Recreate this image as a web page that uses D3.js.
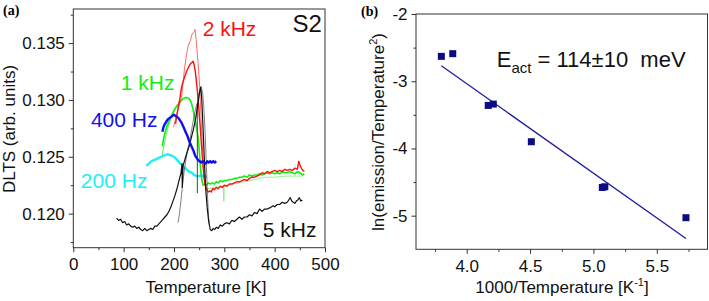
<!DOCTYPE html>
<html lang="en">
<head>
<meta charset="UTF-8">
<title>DLTS S2</title>
<script src="https://d3js.org/d3.v7.min.js"></script>
<style>
  body { margin: 0; background: #fff; }
  svg { display: block; font-family: "Liberation Sans", Arial, sans-serif; }
  .tick text { font-size: 17px; fill: #111; }
  .tick line { stroke: #333; }
  .frame { fill: none; stroke: #333; stroke-width: 1; }
  .trace { fill: none; stroke-linejoin: round; }
  .axis-title { font-size: 17px; fill: #111; }
  .panel-tag { font-family: "Liberation Serif", "DejaVu Serif", serif; font-weight: bold; font-size: 14px; }
</style>
</head>
<body>
<svg id="chart" width="709" height="301"></svg>
<script>
// ---- panel (a): DLTS spectra, [temperature K, signal] ----
const tempTicks = [0, 100, 200, 300, 400, 500];
const tempMinor = [50, 150, 250, 350, 450];
const dltsTicks = [0.120, 0.125, 0.130, 0.135];
const dltsMinor = [0.1175, 0.1225, 0.1275, 0.1325, 0.1375];

const trace5kHz = [[86,0.1196],[90,0.1194],[94,0.1195],[98,0.1192],[102,0.1193],[106,0.1190],[110,0.1191],[114,0.1189],[118,0.1188],[122,0.1189],[126,0.1187],[130,0.1188],[134,0.1186],[138,0.1185],[142,0.1187],[146,0.1185],[150,0.1186],[154,0.1187],[158,0.1186],[162,0.1189],[166,0.1189],[170,0.1191],[174,0.1193],[178,0.1195],[182,0.1197],[186,0.1199],[190,0.1202],[194,0.1206],[198,0.1211],[202,0.1216],[206,0.1222],[210,0.1229],[214,0.1236],[216,0.1244],[216.5,0.1223],[218,0.1242],[222,0.1248],[226,0.1254],[230,0.1259],[234,0.1266],[238,0.1273],[242,0.1281],[245,0.1289],[248,0.1298],[251,0.1307],[253,0.1311],[255,0.1302],[257,0.1283],[259,0.1262],[261,0.1240],[263,0.1222],[266,0.1205],[269,0.1193],[272,0.1186],[275,0.1185],[278,0.1187],[281,0.1186],[284,0.1188],[288,0.1187],[292,0.1190],[296,0.1189],[300,0.1191],[305,0.1192],[310,0.1191],[315,0.1194],[320,0.1193],[325,0.1195],[330,0.1197],[335,0.1195],[340,0.1197],[345,0.1197],[350,0.1199],[355,0.1198],[360,0.1201],[365,0.1200],[370,0.1204],[375,0.1202],[380,0.1204],[385,0.1204],[390,0.1205],[397,0.1207],[400,0.1206],[405,0.1208],[410,0.1208],[415,0.1210],[420,0.1209],[425,0.1210],[428,0.1212],[431,0.1214],[434,0.1211],[437,0.1210],[440,0.1209],[443,0.1211],[446,0.1212],[449,0.1214],[452,0.1211],[455,0.1212]];
const trace5kHzB = [[208,0.1192],[211,0.1200],[214,0.1212],[217,0.1225],[220,0.1236],[224,0.1248],[228,0.1258],[232,0.1266],[236,0.1276],[240,0.1286],[244,0.1294],[246,0.1297],[246.5,0.1218],[247,0.1299],[248,0.1302],[251,0.1308],[254,0.1312],[257,0.1306],[259,0.1295],[261,0.1280],[263,0.1258],[265,0.1235],[267,0.1212],[269,0.1196],[271,0.1189]];

const trace2kHz = [[203,0.1279],[206,0.1287],[209,0.1295],[212,0.1302],[215,0.1311],[218,0.1316],[221,0.1320],[224,0.1324],[227,0.1327],[230,0.1330],[233,0.1332],[236,0.1333],[238,0.1334],[240,0.1331],[242,0.1326],[244,0.1319],[246,0.1310],[248,0.1300],[250,0.1289],[252,0.1277],[254,0.1264],[256,0.1252],[258,0.1240],[260,0.1231],[262,0.1225],[265,0.1221],[268,0.1219],[271,0.1220],[274,0.1219],[277,0.1222],[280,0.1221],[284,0.1223],[288,0.1222],[292,0.1224],[296,0.1223],[300,0.1225],[305,0.1224],[310,0.1226],[315,0.1226],[320,0.1227],[325,0.1228],[330,0.1228],[335,0.1229],[340,0.1230],[345,0.1229],[350,0.1231],[355,0.1232],[360,0.1232],[365,0.1233],[370,0.1234],[375,0.1236],[380,0.1235],[385,0.1237],[390,0.1236],[395,0.1237],[400,0.1238],[405,0.1237],[410,0.1238],[415,0.1237],[420,0.1239],[425,0.1238],[430,0.1239],[435,0.1238],[440,0.1240],[445,0.1239],[448,0.1246],[450,0.1243],[453,0.1240],[456,0.1238],[459,0.1237]];
const trace2kHzB = [[199,0.1276],[203,0.1283],[207,0.1290],[211,0.1296],[215,0.1302],[218,0.1315],[221,0.1328],[225,0.1340],[228,0.1347],[231,0.1351],[233,0.1352],[235,0.1357],[238,0.1359],[240,0.1360],[242,0.1362],[244,0.1353],[246,0.1342],[248,0.1332],[251,0.1312],[253,0.1293],[255,0.1273],[257,0.1254],[259,0.1238],[261,0.1228],[263,0.1223]];

const trace1kHz = [[177,0.1259],[179,0.1265],[182,0.1271],[186,0.1277],[190,0.1281],[194,0.1285],[198,0.1289],[202,0.1292],[206,0.1295],[210,0.1297],[214,0.1299],[218,0.1301],[222,0.1302],[226,0.1302],[230,0.1301],[233,0.1299],[236,0.1295],[239,0.1289],[242,0.1282],[245,0.1275],[248,0.1267],[250,0.1257],[252,0.1245],[254,0.1234],[256,0.1228],[258,0.1225],[261,0.1226],[264,0.1225],[268,0.1227],[272,0.1226],[276,0.1227],[280,0.1226],[284,0.1228],[288,0.1227],[292,0.1229],[296,0.1228],[300,0.1229],[305,0.1229],[310,0.1230],[315,0.1230],[320,0.1231],[325,0.1231],[330,0.1232],[335,0.1232],[340,0.1233],[345,0.1232],[350,0.1234],[355,0.1233],[360,0.1234],[365,0.1234],[370,0.1235],[375,0.1234],[380,0.1235],[385,0.1236],[390,0.1235],[395,0.1236],[400,0.1235],[405,0.1236],[410,0.1235],[415,0.1237],[420,0.1236],[425,0.1236],[430,0.1237],[435,0.1236],[440,0.1235],[445,0.1237],[450,0.1236],[455,0.1234],[459,0.1235]];
const trace1kHzB = [[176,0.1251],[179,0.1257],[183,0.1266],[187,0.1274],[191,0.1280],[196,0.1286],[201,0.1291],[206,0.1295]];
const trace1kHzC = [[262,0.1222],[270,0.1222],[280,0.1223],[290,0.1224],[298,0.1224],[299,0.1211],[300,0.1224],[310,0.1225],[320,0.1226],[340,0.1228],[360,0.1230],[380,0.1232],[400,0.1232],[420,0.1233],[440,0.1233],[455,0.1233]];

const trace400Hz = [[177,0.1272],[179,0.1276],[182,0.1279],[185,0.1281],[188,0.1283],[191,0.1284],[194,0.1285],[197,0.1286],[200,0.1287],[203,0.1286],[206,0.1285],[209,0.1284],[212,0.1282],[215,0.1280],[218,0.1277],[221,0.1274],[224,0.1271],[227,0.1268],[230,0.1264],[233,0.1261],[236,0.1258],[239,0.1255],[242,0.1251],[245,0.1249],[248,0.1247],[251,0.1246],[254,0.1245],[257,0.1246],[260,0.1245],[263,0.1244],[266,0.1246],[269,0.1245],[272,0.1246],[275,0.1245],[278,0.1246],[281,0.1245],[284,0.1246]];
const trace200Hz = [[145,0.1242],[150,0.1244],[155,0.1246],[160,0.1247],[165,0.1248],[170,0.1249],[175,0.1250],[180,0.1251],[185,0.1252],[190,0.1252],[195,0.1251],[200,0.1250],[205,0.1248],[210,0.1245],[215,0.1243],[220,0.1241],[225,0.1239],[230,0.1237],[235,0.1236],[240,0.1234],[245,0.1233],[250,0.1233],[255,0.1234],[260,0.1232],[265,0.1233]];

// ---- panel (b): Arrhenius plot ----
const invTTicks = [4.0, 4.5, 5.0, 5.5];
const invTMinor = [3.75, 4.25, 4.75, 5.25, 5.75];
const lnTicks = [-5, -4, -3, -2];
const lnMinor = [-4.5, -3.5, -2.5];
const invT = [3.80, 3.89, 4.17, 4.21, 4.51, 5.07, 5.09, 5.73];
const lnEmission = [-2.63, -2.59, -3.36, -3.34, -3.90, -4.58, -4.57, -5.03];
const fitInvT = [3.80, 5.73];
const fitLn = [-2.77, -5.34];

const svg = d3.select("#chart");

function frameAxes(x, y, xTicks, xMinor, yTicks, yMinor, xFmt, yFmt) {
    const [x0, x1] = x.range();
    const [y0, y1] = y.range();
    const g = svg.append("g");

    g.append("g").attr("transform", "translate(0," + y0 + ")")
        .call(d3.axisBottom(x).tickValues(xMinor).tickSize(2.5).tickFormat(""));
    g.append("g").attr("transform", "translate(0," + y0 + ")")
        .call(d3.axisBottom(x).tickValues(xTicks).tickSize(4.5).tickPadding(6).tickFormat(xFmt));
    g.append("g").attr("transform", "translate(" + x0 + ",0)")
        .call(d3.axisLeft(y).tickValues(yMinor).tickSize(2.5).tickFormat(""));
    g.append("g").attr("transform", "translate(" + x0 + ",0)")
        .call(d3.axisLeft(y).tickValues(yTicks).tickSize(4.5).tickPadding(4).tickFormat(yFmt));

    g.selectAll(".domain").remove();
    g.selectAll("g").attr("font-family", null).attr("font-size", null);

    g.append("rect").attr("class", "frame")
        .attr("x", x0).attr("y", y1)
        .attr("width", x1 - x0).attr("height", y0 - y1);
}

// ---------- panel (a) ----------
const xA = d3.scaleLinear().domain([0, 500]).range([73.3, 325]);
const yA = d3.scaleLinear().domain([0.117, 0.138]).range([247.7, 9]);
frameAxes(xA, yA, tempTicks, tempMinor, dltsTicks, dltsMinor, d3.format("d"), d3.format(".3f"));

const lineA = d3.line().x(d => xA(d[0])).y(d => yA(d[1]));
const traces = [
    {data: trace200Hz, color: "#22eef5", w: 2.4, op: 1},
    {data: trace1kHzB, color: "#22dd22", w: 0.9, op: 0.8},
    {data: trace1kHzC, color: "#66ee66", w: 0.9, op: 0.8},
    {data: trace1kHz, color: "#11ee11", w: 1.6, op: 1},
    {data: trace2kHzB, color: "#ff3030", w: 0.9, op: 0.8},
    {data: trace2kHz, color: "#ff1010", w: 1.4, op: 1},
    {data: trace5kHzB, color: "#444", w: 0.8, op: 0.85},
    {data: trace5kHz, color: "#111", w: 1.2, op: 1},
    {data: trace400Hz, color: "#1010ee", w: 2.4, op: 1}
];
svg.append("g").selectAll("path").data(traces).join("path")
    .attr("class", "trace")
    .attr("d", d => lineA(d.data))
    .attr("stroke", d => d.color)
    .attr("stroke-width", d => d.w)
    .attr("stroke-opacity", d => d.op);

const labelsA = [
    {t: "2 kHz", T: 257, v: 0.13565, c: "#ff1010", a: "start", s: 21},
    {t: "1 kHz", T: 94.5, v: 0.13088, c: "#11ee11", a: "start", s: 21},
    {t: "400 Hz", T: 35, v: 0.12762, c: "#1010ee", a: "start", s: 21},
    {t: "200 Hz", T: 15, v: 0.12224, c: "#22eef5", a: "start", s: 21},
    {t: "5 kHz", T: 376.5, v: 0.11792, c: "#111", a: "start", s: 21},
    {t: "S2", T: 494, v: 0.13595, c: "#111", a: "end", s: 24}
];
svg.append("g").selectAll("text").data(labelsA).join("text")
    .attr("x", d => xA(d.T)).attr("y", d => yA(d.v))
    .attr("fill", d => d.c).attr("text-anchor", d => d.a)
    .attr("font-size", d => d.s)
    .text(d => d.t);

svg.append("text").attr("class", "axis-title")
    .attr("x", 206).attr("y", 293).attr("text-anchor", "middle")
    .text("Temperature [K]");
svg.append("text").attr("class", "axis-title")
    .attr("transform", "translate(15,129) rotate(-90)").attr("text-anchor", "middle")
    .text("DLTS (arb. units)");
svg.append("text").attr("class", "panel-tag").attr("x", 3).attr("y", 15).text("(a)");

// ---------- panel (b) ----------
const xB = d3.scaleLinear().domain([3.6, 5.9]).range([416, 707.5]);
const yB = d3.scaleLinear().domain([-5.5, -2]).range([249.3, 14]);
frameAxes(xB, yB, invTTicks, invTMinor, lnTicks, lnMinor, d => d.toFixed(1), d => String(d));

const fit = d3.zip(fitInvT, fitLn);
svg.append("path")
    .attr("d", d3.line().x(d => xB(d[0])).y(d => yB(d[1]))(fit))
    .attr("fill", "none").attr("stroke", "#1c1ca0").attr("stroke-width", 1.3);

const pts = d3.zip(invT, lnEmission);
const ms = 7;
svg.append("g").selectAll("rect").data(pts).join("rect")
    .attr("x", d => xB(d[0]) - ms / 2).attr("y", d => yB(d[1]) - ms / 2)
    .attr("width", ms).attr("height", ms)
    .attr("fill", "#0c0c82");

const eText = svg.append("text").attr("x", xB(4.237)).attr("y", yB(-2.784))
    .attr("font-size", 22).attr("fill", "#111");
eText.append("tspan").text("E");
eText.append("tspan").attr("font-size", 15).attr("dy", 6).text("act");
eText.append("tspan").attr("dy", -6).text(" = 114\u00b110\u00a0\u00a0meV");

const xTitleB = svg.append("text").attr("class", "axis-title")
    .attr("x", 562).attr("y", 293).attr("text-anchor", "middle");
xTitleB.append("tspan").text("1000/Temperature [K");
xTitleB.append("tspan").attr("font-size", 11).attr("dy", -7).text("-1");
xTitleB.append("tspan").attr("dy", 7).text("]");

const yTitleB = svg.append("text").attr("class", "axis-title")
    .attr("transform", "translate(384,132) rotate(-90)").attr("text-anchor", "middle");
yTitleB.append("tspan").text("ln(emission/Temperature");
yTitleB.append("tspan").attr("font-size", 11).attr("dy", -7).text("2");
yTitleB.append("tspan").attr("dy", 7).text(")");

svg.append("text").attr("class", "panel-tag").attr("x", 361).attr("y", 16).text("(b)");
</script>
</body>
</html>
